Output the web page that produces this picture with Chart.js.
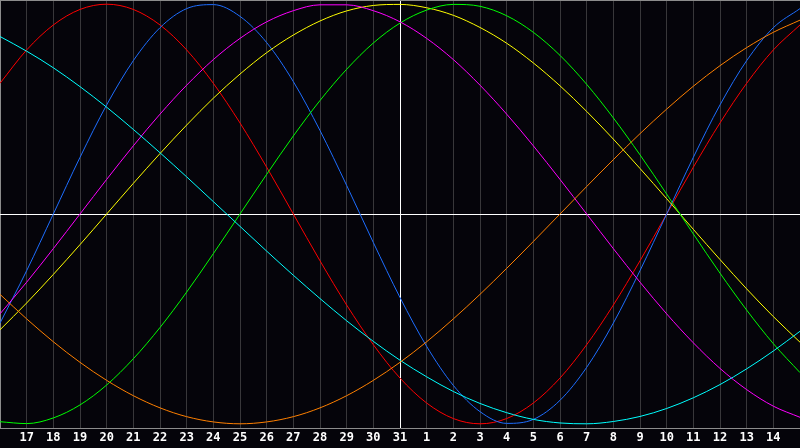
<!DOCTYPE html>
<html>
<head>
<meta charset="utf-8">
<style>
  html, body { margin: 0; padding: 0; background: #05040a; }
  #wrap { width: 800px; height: 448px; }
</style>
<script src="https://cdn.jsdelivr.net/npm/chart.js@4/dist/chart.umd.min.js"></script>
</head>
<body>
<div id="wrap"><canvas id="bio" width="800" height="448"></canvas></div>
<script>
// day labels, one per grid line (first and last are not printed)
var DAYS = ['16','17','18','19','20','21','22','23','24','25','26','27','28','29','30','31',
            '1','2','3','4','5','6','7','8','9','10','11','12','13','14','15'];

// cycle values, one per day (-1 .. 1)
var RED = [0.623, 0.782, 0.901, 0.975, 1, 0.975, 0.901, 0.782, 0.623, 0.434, 0.223, 0, -0.223, -0.434, -0.623, -0.782,
           -0.901, -0.975, -1, -0.975, -0.901, -0.782, -0.623, -0.434, -0.223, 0, 0.223, 0.434, 0.623, 0.782, 0.901];
var BLUE = [-0.520, -0.270, 0, 0.270, 0.520, 0.731, 0.888, 0.979, 0.998, 0.942, 0.817, 0.631, 0.398, 0.136, -0.136, -0.398,
            -0.631, -0.817, -0.942, -0.998, -0.979, -0.888, -0.731, -0.520, -0.270, 0, 0.270, 0.520, 0.731, 0.888, 0.979];
var GREEN = [-0.990, -0.999, -0.972, -0.910, -0.815, -0.690, -0.541, -0.372, -0.189, 0, 0.189, 0.372, 0.541, 0.690, 0.815, 0.910,
             0.972, 0.999, 0.990, 0.945, 0.866, 0.756, 0.618, 0.458, 0.282, 0.095, -0.095, -0.282, -0.458, -0.618, -0.756];
var MAGENTA = [-0.476, -0.325, -0.165, 0, 0.165, 0.325, 0.476, 0.614, 0.736, 0.837, 0.916, 0.969, 0.997, 0.997, 0.969, 0.916,
               0.837, 0.736, 0.614, 0.476, 0.325, 0.165, 0, -0.165, -0.325, -0.476, -0.614, -0.736, -0.837, -0.916, -0.969];
var YELLOW = [-0.552, -0.424, -0.288, -0.146, 0, 0.146, 0.288, 0.424, 0.552, 0.667, 0.769, 0.853, 0.920, 0.968, 0.994, 0.999,
              0.983, 0.947, 0.889, 0.814, 0.720, 0.611, 0.489, 0.357, 0.217, 0.073, -0.073, -0.217, -0.357, -0.489, -0.611];
var ORANGE = [-0.383, -0.5, -0.609, -0.707, -0.793, -0.866, -0.924, -0.966, -0.991, -1, -0.991, -0.966, -0.924, -0.866, -0.793, -0.707,
              -0.609, -0.5, -0.383, -0.259, -0.131, 0, 0.131, 0.259, 0.383, 0.5, 0.609, 0.707, 0.793, 0.866, 0.924];
var CYAN = [0.846, 0.776, 0.697, 0.607, 0.509, 0.403, 0.292, 0.177, 0.059, -0.059, -0.177, -0.292, -0.403, -0.509, -0.607, -0.697,
            -0.776, -0.846, -0.903, -0.947, -0.979, -0.996, -1.000, -0.989, -0.965, -0.927, -0.876, -0.813, -0.738, -0.653, -0.559];

var TODAY = 15;          // index of the white vertical line
var GRID = '#38373a';
var EDGE = '#8c8c8c';

function line(data, color) {
  return { data: data, borderColor: color, borderWidth: 1, pointRadius: 0,
           tension: 0.4, cubicInterpolationMode: 'monotone', fill: false };
}

new Chart(document.getElementById('bio'), {
  type: 'line',
  data: {
    labels: DAYS,
    datasets: [
      line(ORANGE, '#ff8000'),
      line(CYAN, '#00ffff'),
      line(MAGENTA, '#ff00ff'),
      line(GREEN, '#00ff00'),
      line(YELLOW, '#ffff00'),
      line(BLUE, '#1e6eff'),
      line(RED, '#ff0000')
    ]
  },
  options: {
    responsive: false,
    animation: false,
    layout: { padding: 0 },
    plugins: { legend: { display: false }, tooltip: { enabled: false } },
    scales: {
      x: {
        offset: false,
        afterFit: function (s) { s.paddingLeft = 0; s.paddingRight = 0; },
        border: { display: true, color: EDGE, width: 1 },
        grid: {
          drawTicks: false,
          color: function (c) {
            if (c.index === TODAY) return '#ffffff';
            if (c.index === 0) return EDGE;
            if (c.index === DAYS.length - 1) return 'rgba(0,0,0,0)';
            return GRID;
          }
        },
        ticks: {
          autoSkip: false, maxRotation: 0, padding: 3, color: '#ffffff',
          font: { family: "'DejaVu Sans Mono', monospace", size: 12, weight: 'bold', lineHeight: '14px' },
          callback: function (v, i) { return (i === 0 || i === DAYS.length - 1) ? '' : DAYS[i]; }
        }
      },
      y: {
        min: -1.02, max: 1.02,
        border: { display: false },
        afterBuildTicks: function (s) { s.ticks = [{ value: -1.02 }, { value: 0 }, { value: 1.02 }]; },
        grid: {
          drawTicks: false,
          color: function (c) {
            if (c.tick && c.tick.value === 0) return '#ffffff';
            if (c.tick && c.tick.value > 0) return EDGE;
            return 'rgba(0,0,0,0)';
          }
        },
        ticks: { display: false }
      }
    }
  }
});
</script>
</body>
</html>
